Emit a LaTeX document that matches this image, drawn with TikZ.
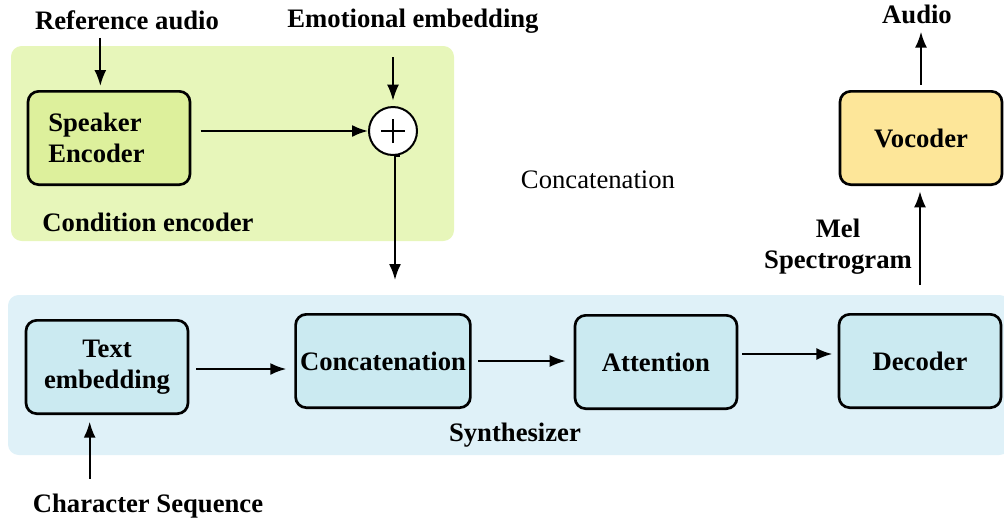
\documentclass[tikz,border=0pt]{standalone}
\usepackage{fontspec}
\setmainfont{Liberation Serif}
\usetikzlibrary{arrows.meta,positioning}
\definecolor{condbg}{HTML}{E7F6BA}
\definecolor{spkfill}{HTML}{DDF09C}
\definecolor{synbg}{HTML}{DFF1F8}
\definecolor{synfill}{HTML}{CBEAF1}
\definecolor{vocfill}{HTML}{FDE699}
\tikzset{arrow/.style={-{Latex[length=12pt,width=9pt]}, line width=1.5pt}}
\tikzset{block/.style={draw, line width=2pt, rounded corners=8pt, minimum width=121.5pt, minimum height=70pt, align=center, font=\fontsize{20}{23.5}\selectfont\bfseries}}
\tikzset{lbl/.style={font=\fontsize{20}{23.5}\selectfont\bfseries, inner sep=2pt}}

\begin{document}
\begin{tikzpicture}[x=0.75pt,y=-0.75pt]
    \useasboundingbox (0,0) rectangle (1004,526);
    \fill[condbg, rounded corners=8pt] (11,46) rectangle (454,241);
    \fill[synbg, rounded corners=8pt] (8,295) rectangle (1010,455);
    \node[block, fill=spkfill, align=left, text width=91pt, inner xsep=15pt] (spk) at (109,138) {Speaker\\Encoder};
    \node[lbl] (cond) at (148,222) {Condition encoder};
    \node[circle, draw, line width=1.5pt, fill=white, minimum size=36pt] (plus) at (393,131) {};
    \draw[line width=1.5pt] ([xshift=-9pt]plus.center) -- ([xshift=9pt]plus.center);
    \draw[line width=1.5pt] ([yshift=-9pt]plus.center) -- ([yshift=9pt]plus.center);
    \node[lbl] (refaudio) at (127,20) {Reference audio};
    \node[lbl] (emo) at (413,21) {Emotional embedding};
    \node[font=\fontsize{20}{23.5}\selectfont] (concatlbl) at (598,180) {Concatenation};
    \node[block, fill=synfill] (text) at (107,367) {Text\\embedding};
    \node[block, fill=synfill, minimum width=131pt] (concat) at (383,361) {Concatenation};
    \node[block, fill=synfill] (attn) at (656,362) {Attention};
    \node[block, fill=synfill] (dec) at (920,361) {Decoder};
    \node[lbl] (synth) at (515,435) {Synthesizer};
    \node[lbl] (charseq) at (148,506) {Character Sequence};
    \node[block, fill=vocfill] (voc) at (921,138) {Vocoder};
    \node[lbl] (audio) at (917,14) {Audio};
    \node[lbl, align=center] (mel) at (838,247) {Mel\\Spectrogram};
    \coordinate (synin) at (395,280);
    \draw[arrow, shorten <=4pt, shorten >=3pt] ([xshift=-20pt]refaudio.south) -- ([xshift=-20pt]refaudio.south |- spk.north);
    \draw[arrow, shorten <=16pt, shorten >=4pt] (emo.south -| plus) -- (plus.north);
    \draw[arrow, shorten <=7pt] (spk.east |- plus.west) -- (plus.west);
    \draw[arrow, shorten <=5pt] (plus.south) -- (plus.south -| synin) -- (synin);
    \draw[arrow, shorten <=5pt, shorten >=6pt] ([yshift=-1.5pt]text.east) -- ([yshift=-1.5pt]text.east -| concat.west);
    \draw[arrow, shorten <=5pt, shorten >=6pt] (concat.east) -- (concat.east -| attn.west);
    \draw[arrow, shorten <=3pt, shorten >=4pt] ([yshift=6pt]attn.east) -- ([yshift=6pt]attn.east -| dec.west);
    \draw[arrow, shorten <=9pt, shorten >=5pt] ([xshift=-13pt]text.south |- charseq.north) -- ([xshift=-13pt]text.south);
    \draw[arrow, shorten <=21pt, shorten >=4pt] (dec.north) -- (dec.north |- voc.south);
    \draw[arrow, shorten <=4pt, shorten >=4pt] (voc.north) -- (voc.north |- audio.south);
\end{tikzpicture}
\end{document}
